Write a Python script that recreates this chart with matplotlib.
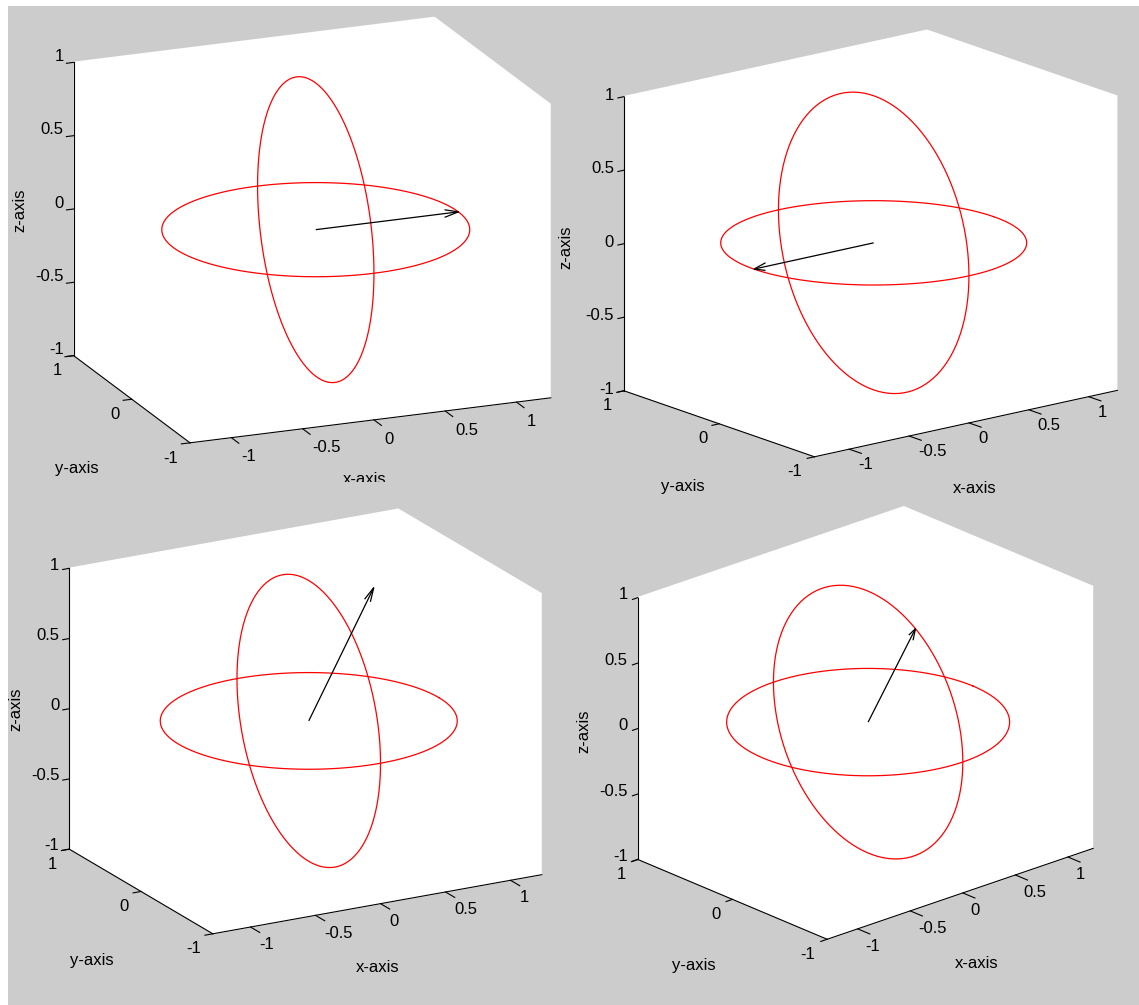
import numpy as np
import matplotlib.pyplot as plt
from matplotlib.patches import Rectangle
from matplotlib.transforms import Bbox, offset_copy
from mpl_toolkits.mplot3d import proj3d

plt.rcParams['font.family'] = ['Liberation Sans', 'DejaVu Sans']
plt.rcParams['font.size'] = 12
plt.rcParams['axes.unicode_minus'] = False

# axis limits and ticks (x range came out a little wider in the original)
x_lim = (-1.29, 1.24)
y_lim = (-1.0, 1.0)
z_lim = (-1.0, 1.0)
x_ticks = [-1, -0.5, 0, 0.5, 1]
x_ticklabels = ['-1', '-0.5', '0', '0.5', '1']
y_ticks = [-1, 0, 1]
y_ticklabels = ['-1', '0', '1']
z_ticks = [-1, -0.5, 0, 0.5, 1]
z_ticklabels = ['-1', '-0.5', '0', '0.5', '1']

# two unit circles (xy plane and yz plane)
radius = 1.0
n_pts = 121

# arrow direction in each of the four frames
arrow_u = [1.0, -1.0, 0.5, 0.0]
arrow_v = [0.0, 0.0, 0.0, -0.5]
arrow_w = [0.0, 0.0, 0.866, 0.866]

# layout, in pixels of the 1139x1005 picture (origin top left)
W, H = 1139, 1005
views = [(17.8, -112.2), (16.0, -128.5), (19.0, -118.9), (22.3, -132.0)]
box_centres = [(312.2, 230.1), (870.7, 243.5), (305.5, 721.5), (865.5, 723.0)]
px_per_unit = [154, 153, 148.5, 141.5]
xlabel_pos = [(365, 483.5), (975, 493), (378, 972), (977, 968)]
ylabel_pos = [(77, 473), (683, 491), (92, 965), (694, 970)]
zlabel_pos = [(20, 210), (566, 247), (15.5, 709), (584, 731)]
# screen offsets (px) of the tick labels from their ticks
xtl_right = [10, 9, 9, 8]
xtl_below = [17.5, 13.7, 16, 16]
ztl_above = [7.5, 3, 5, 4.5]

fig = plt.figure(figsize=(W / 100, H / 100), dpi=100)
fig.patch.set_facecolor('white')
fig.add_artist(Rectangle((8 / W, 0), 1, 1 - 6 / H, transform=fig.transFigure,
                         facecolor='#cccccc', edgecolor='none', zorder=-5))

t = np.linspace(0, 2 * np.pi, n_pts)
cu = radius * np.cos(t)
cv = radius * np.sin(t)
span = (x_lim[1] - x_lim[0], y_lim[1] - y_lim[0], z_lim[1] - z_lim[0])
# pixels per data unit for an axes of side S and zoom 1
k = 1.8294640721620434 * 25 / 24 / np.linalg.norm(span) / 1.85
mid = 1.7  # digits sit a bit above the centre of the text box


def tick_texts(ax, xs, ys, zs, labels, dx, dy, ha):
    # project the tick points with the axes' own 3d projection, then
    # put plain 2d labels at a fixed pixel offset from them
    px, py, _ = proj3d.proj_transform(np.asarray(xs, float), np.asarray(ys, float),
                                      np.asarray(zs, float), ax.get_proj())
    tr = offset_copy(ax.transData, fig=fig, x=dx, y=dy, units='dots')
    for a, b, s in zip(px, py, labels):
        ax.text2D(a, b, s, transform=tr, ha=ha, va='center')


for i in range(4):
    S = px_per_unit[i] / k
    cx, cy = box_centres[i]
    left = cx - 0.95 / 1.85 * S
    top = cy - 0.9 / 1.85 * S
    ax = fig.add_axes([left / W, 1 - (top + S) / H, S / W, S / H],
                      projection='3d', proj_type='ortho')
    ax.set_facecolor((0, 0, 0, 0))
    ax.computed_zorder = False
    ax.set_xlim(x_lim)
    ax.set_ylim(y_lim)
    ax.set_zlim(z_lim)
    ax.set_box_aspect(span)
    ax.view_init(elev=views[i][0], azim=views[i][1])

    ax.plot(cu, cv, np.zeros_like(t), color='red', lw=0.9)
    ax.plot(np.zeros_like(t), cu, cv, color='red', lw=0.9)
    ax.quiver(0, 0, 0, arrow_u[i], arrow_v[i], arrow_w[i], color='black',
              lw=0.9, arrow_length_ratio=0.1)

    ax.set_xticks(x_ticks)
    ax.set_yticks(y_ticks)
    ax.set_zticks(z_ticks)
    ax.tick_params(axis='x', labelbottom=False)
    ax.tick_params(axis='y', labelleft=False)
    ax.tick_params(axis='z', labelleft=False)
    ax.grid(False)
    for axis, tick_len in ((ax.xaxis, 0.8), (ax.yaxis, 0.3), (ax.zaxis, 0.25)):
        axis.set_pane_color((1, 1, 1, 1))
        axis.line.set_color('black')
        axis.line.set_linewidth(0.8)
        axis._axinfo['tick']['inward_factor'] = tick_len
        axis._axinfo['tick']['outward_factor'] = 0.0
        axis._axinfo['tick']['linewidth'] = {True: 0.8, False: 0.5}
        axis._axinfo['tick']['color'] = 'black'

    # tick labels at a fixed screen offset from the tick, like MATLAB
    n = len(x_ticks)
    tick_texts(ax, x_ticks, [y_lim[0]] * n, [z_lim[0]] * n, x_ticklabels,
               xtl_right[i], -xtl_below[i] - mid, 'left')
    n = len(y_ticks)
    tick_texts(ax, [x_lim[0]] * n, y_ticks, [z_lim[0]] * n, y_ticklabels,
               -12, -13.5 - mid, 'right')
    n = len(z_ticks)
    tick_texts(ax, [x_lim[0]] * n, [y_lim[1]] * n, z_ticks, z_ticklabels,
               -10, ztl_above[i] - mid, 'right')

    tx = fig.text(xlabel_pos[i][0] / W, 1 - xlabel_pos[i][1] / H, 'x-axis',
                  ha='center', va='baseline')
    if i == 0:
        # the bottom of this label is cut off in the original
        tx.set_clip_box(Bbox.from_extents(0, H - 482, W, H))
        tx.set_clip_on(True)
    fig.text(ylabel_pos[i][0] / W, 1 - ylabel_pos[i][1] / H, 'y-axis',
             ha='center', va='baseline')
    fig.text(zlabel_pos[i][0] / W, 1 - zlabel_pos[i][1] / H, 'z-axis',
             ha='center', va='center', rotation=90)

fig.savefig('out.png', dpi=100, facecolor=fig.get_facecolor())
